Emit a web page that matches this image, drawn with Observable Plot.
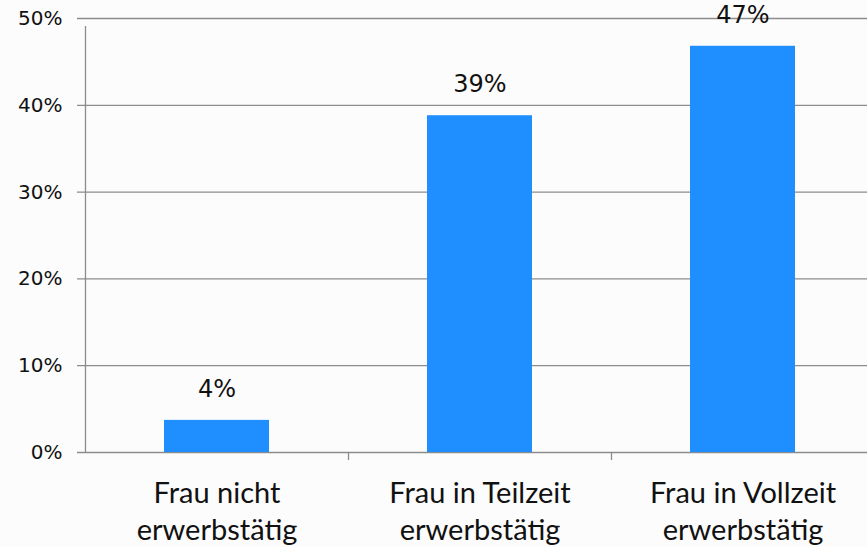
<!DOCTYPE html>
<html>
<head>
<meta charset="utf-8">
<script src="https://cdn.jsdelivr.net/npm/d3@7"></script>
<script src="https://cdn.jsdelivr.net/npm/@observablehq/plot@0.6"></script>
<style>
  html, body { margin: 0; padding: 0; background: #fcfcfc; }
  svg { display: block; background: #fcfcfc; }
</style>
</head>
<body>
<div id="chart"></div>
<script>
const categories = ["Frau nicht\nerwerbstätig", "Frau in Teilzeit\nerwerbstätig", "Frau in Vollzeit\nerwerbstätig"];
const values = [3.7, 38.8, 46.8];
const labels = ["4%", "39%", "47%"];
const yTicks = [0, 10, 20, 30, 40, 50];

const data = categories.map((c, i) => ({category: c, value: values[i], label: labels[i]}));

const W = 867, H = 547;
const plotLeft = 85, plotRight = 874, plotTop = 18, plotBottom = 452;
const step = (plotRight - plotLeft) / categories.length;
const gridColor = "#8c8c8c";

const chart = Plot.plot({
  width: W,
  height: H,
  marginTop: plotTop,
  marginBottom: H - plotBottom,
  marginLeft: plotLeft,
  marginRight: W - plotRight,
  style: {background: "#fcfcfc", overflow: "visible"},
  x: {domain: categories, paddingInner: 0.6, paddingOuter: 0.3, align: 0.5, axis: null},
  y: {domain: [0, 50], ticks: yTicks, axis: null},
  marks: [
    Plot.ruleY(yTicks, {y: d => d, stroke: gridColor, strokeWidth: 1.3, insetLeft: -8}),
    Plot.ruleX([categories[0]], {x: d => d, dx: -step / 2, y1: 0, y2: 50, insetBottom: -8, stroke: gridColor, strokeWidth: 1.3}),
    Plot.ruleX(categories, {x: d => d, dx: step / 2, y1: 0, y2: 0, insetBottom: -8, stroke: gridColor, strokeWidth: 1.3}),
    Plot.barY(data, {x: "category", y: "value", fill: "#1f8fff"}),
    Plot.text(data, {x: "category", y: "value", text: "label", dy: -31, fontSize: 24, fill: "#111", fontFamily: "DejaVu Sans"}),
    Plot.text(yTicks, {x: () => categories[0], y: d => d, text: d => d + "%", dx: -step / 2 - 23, textAnchor: "end", fontSize: 20, fill: "#111", fontFamily: "DejaVu Sans"}),
    Plot.text(data, {x: "category", y: 0, text: "category", lineAnchor: "top", dy: 24, lineHeight: 1.29, fontSize: 29, fill: "#111", fontFamily: "Lato"})
  ]
});
document.getElementById("chart").appendChild(chart);
</script>
</body>
</html>
